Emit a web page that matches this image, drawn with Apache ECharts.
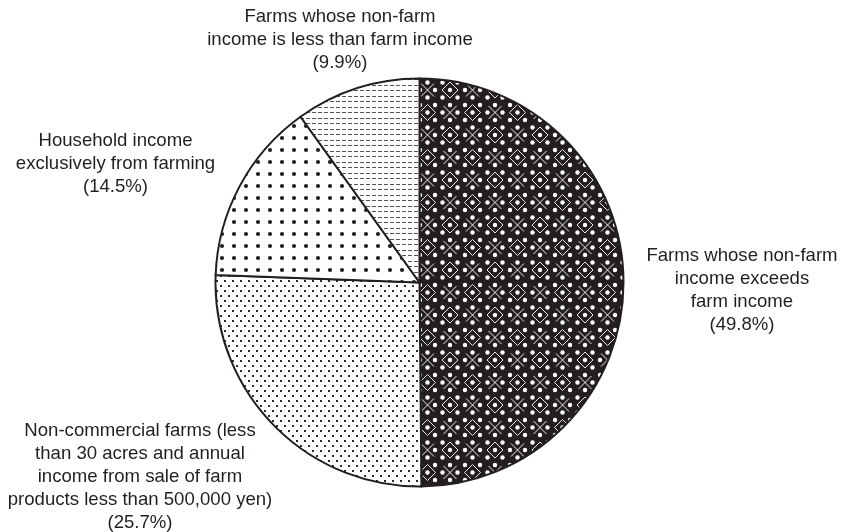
<!DOCTYPE html>
<html>
<head>
<meta charset="utf-8">
<script src="https://cdn.jsdelivr.net/npm/echarts@6/dist/echarts.min.js"></script>
<style>
  html, body { margin: 0; padding: 0; background: #ffffff; }
  #chart { width: 844px; height: 532px; }
</style>
</head>
<body>
<div id="chart"></div>
<script>
// Farm household categories and their share of all farms (%)
const categories = [
  'Farms whose non-farm\nincome exceeds\nfarm income',
  'Non-commercial farms (less\nthan 30 acres and annual\nincome from sale of farm\nproducts less than 500,000 yen)',
  'Household income\nexclusively from farming',
  'Farms whose non-farm\nincome is less than farm income'
];
const shares = [49.8, 25.7, 14.5, 9.9];

const INK = '#231f20';

// Small canvas tiles used as repeating fill patterns
function makeTile(w, h, draw) {
  const c = document.createElement('canvas');
  c.width = w; c.height = h;
  const g = c.getContext('2d');
  draw(g, w, h);
  return c;
}

// Dark fill: white dot lattice with white X and diamond motifs
const darkTile = makeTile(45, 45, (g, w, h) => {
  g.fillStyle = INK;
  g.fillRect(0, 0, w, h);
  g.fillStyle = '#ffffff';
  for (let r = -2; r <= 8; r++) {
    const y = r * 7.5;
    const off = (Math.abs(r) % 2) * 7.5;
    for (let x = off - 45; x <= 90; x += 15) {
      g.beginPath();
      g.arc(x, y, 2.2, 0, Math.PI * 2);
      g.fill();
    }
  }
  g.strokeStyle = '#ffffff';
  g.lineWidth = 0.9;
  const shifts = [-45, 0, 45];
  const diamonds = [[0, 0], [22.5, 22.5]];
  const crosses = [[22.5, 0], [0, 22.5]];
  shifts.forEach(sx => shifts.forEach(sy => {
    diamonds.forEach(([cx, cy]) => {
      const x = cx + sx, y = cy + sy, d = 8;
      g.beginPath();
      g.moveTo(x, y - d); g.lineTo(x + d, y); g.lineTo(x, y + d); g.lineTo(x - d, y);
      g.closePath();
      g.stroke();
    });
    crosses.forEach(([cx, cy]) => {
      const x = cx + sx, y = cy + sy, d = 6.5;
      g.beginPath();
      g.moveTo(x - d, y - d); g.lineTo(x + d, y + d);
      g.moveTo(x + d, y - d); g.lineTo(x - d, y + d);
      g.stroke();
    });
  }));
});

// Fine stipple: small staggered squares
const stippleTile = makeTile(8, 10, (g, w, h) => {
  g.fillStyle = '#ffffff';
  g.fillRect(0, 0, w, h);
  g.fillStyle = '#2a2a2a';
  g.fillRect(0, 0, 2, 2);
  g.fillRect(4, 5, 2, 2);
});

// Coarse dots on a square grid
const dotTile = makeTile(12, 12, (g, w, h) => {
  g.fillStyle = '#ffffff';
  g.fillRect(0, 0, w, h);
  g.fillStyle = INK;
  g.beginPath();
  g.arc(6, 6, 2.1, 0, Math.PI * 2);
  g.fill();
});

// Dashed horizontal rules
const dashTile = makeTile(6, 11, (g, w, h) => {
  g.fillStyle = '#ffffff';
  g.fillRect(0, 0, w, h);
  g.fillStyle = '#555555';
  g.fillRect(0, 2, 4, 1);
  g.fillRect(0, 8, 4, 1);
});

const fills = [darkTile, stippleTile, dotTile, dashTile];

// Where each slice's caption block is centred
const labelSpots = [
  { x: 742, y: 290 },
  { x: 140, y: 477 },
  { x: 115.5, y: 164 },
  { x: 340, y: 40 }
];

const chart = echarts.init(document.getElementById('chart'), null, { renderer: 'canvas' });

chart.setOption({
  animation: false,
  backgroundColor: '#ffffff',
  series: [{
    type: 'pie',
    center: [419.5, 282.5],
    radius: [0, 204],
    startAngle: 90,
    clockwise: true,
    avoidLabelOverlap: false,
    emphasis: { disabled: true },
    data: shares.map((v, i) => ({
      name: categories[i],
      value: v,
      itemStyle: { color: { image: fills[i], repeat: 'repeat' } }
    })),
    itemStyle: { borderColor: INK, borderWidth: 2 },
    label: {
      show: true,
      position: 'outside',
      formatter: p => p.name + '\n(' + p.value.toFixed(1) + '%)',
      fontFamily: '"Liberation Sans", Arial, Helvetica, sans-serif',
      fontSize: 18.6,
      lineHeight: 23,
      color: INK,
      align: 'center'
    },
    labelLine: { show: false },
    labelLayout: p => ({
      x: labelSpots[p.dataIndex].x,
      y: labelSpots[p.dataIndex].y,
      align: 'center',
      verticalAlign: 'middle'
    })
  }]
});
</script>
</body>
</html>
